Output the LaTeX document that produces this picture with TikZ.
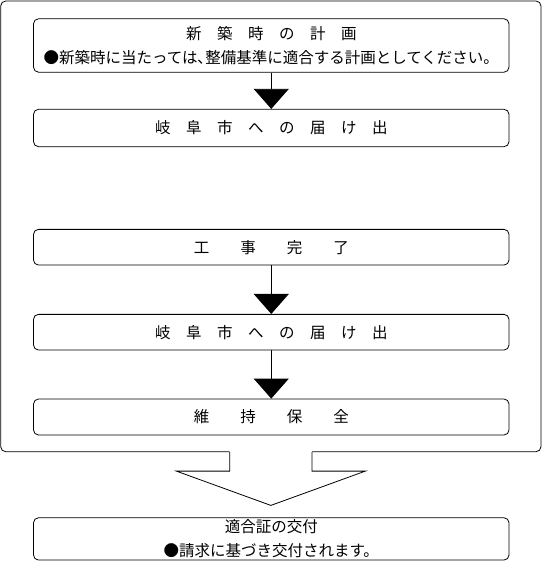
\documentclass[tikz,border=0pt]{standalone}
\usepackage{fontspec}
\newfontfamily\jpfont{Noto Sans CJK JP}
\usetikzlibrary{arrows.meta,calc}

\providecommand{\flowLineWidth}{0.8pt}
\providecommand{\flowRadius}{5pt}
\tikzset{
  stepbox/.style={draw, rounded corners=\flowRadius, line width=\flowLineWidth,
    minimum width=475.5pt, inner sep=0pt, align=center,
    font=\jpfont\fontsize{15.5}{24}\selectfont},
  flowarrow/.style={line width=\flowLineWidth, -{Triangle[width=35pt,length=20pt]}},
}

\begin{document}
\begin{tikzpicture}[x=1pt, y=-1pt]
\useasboundingbox (0,0) rectangle (542,561);
% Outer frame round the five steps
\node[draw, rounded corners=\flowRadius, line width=\flowLineWidth,
  minimum width=540.3pt, minimum height=450.7pt, inner sep=0pt] (frame) at (270.85,226.35) {};
% Steps
\node[stepbox, minimum height=53.4pt] (plan) at (271.25,45.5) {新　築　時　の　計　画\\●新築時に当たっては､整備基準に適合する計画としてください。};
\node[stepbox, minimum height=37.4pt] (notice1) at (271.25,128) {岐　阜　市　へ　の　届　け　出};
\node[stepbox, minimum height=35.7pt] (done) at (271.25,247.2) {工　　事　　完　　了};
\node[stepbox, minimum height=35.7pt] (notice2) at (271.25,332.2) {岐　阜　市　へ　の　届　け　出};
\node[stepbox, minimum height=36pt] (upkeep) at (271.25,417) {維　　持　　保　　全};
\node[stepbox, minimum height=42.3pt] (issue) at (271.25,538.9) {適合証の交付\\●請求に基づき交付されます。};
% Arrows between steps
\draw[flowarrow] (plan) -- (notice1);
\draw[flowarrow] (done) -- (notice2);
\draw[flowarrow] (notice2) -- (upkeep);
% Block arrow from the frame down to the certificate
\coordinate (shaftL) at ($(frame.south)+(-41.2,0)$);
\coordinate (shaftR) at ($(frame.south)+(41.2,0)$);
\coordinate (tip) at ($(frame.south)+(0,53.3)$);
\fill[white] ([yshift=1.5pt]shaftL) -- ($(shaftL)+(0,19)$) -- ($(shaftL)+(-53.3,19)$) -- (tip)
  -- ($(shaftR)+(53.3,19)$) -- ($(shaftR)+(0,19)$) -- ([yshift=1.5pt]shaftR) -- cycle;
\draw[line width=\flowLineWidth] (shaftL) -- ++(0,19) -- ++(-53.3,0) -- (tip)
  -- ($(shaftR)+(53.3,19)$) -- ($(shaftR)+(0,19)$) -- (shaftR);
\end{tikzpicture}
\end{document}
